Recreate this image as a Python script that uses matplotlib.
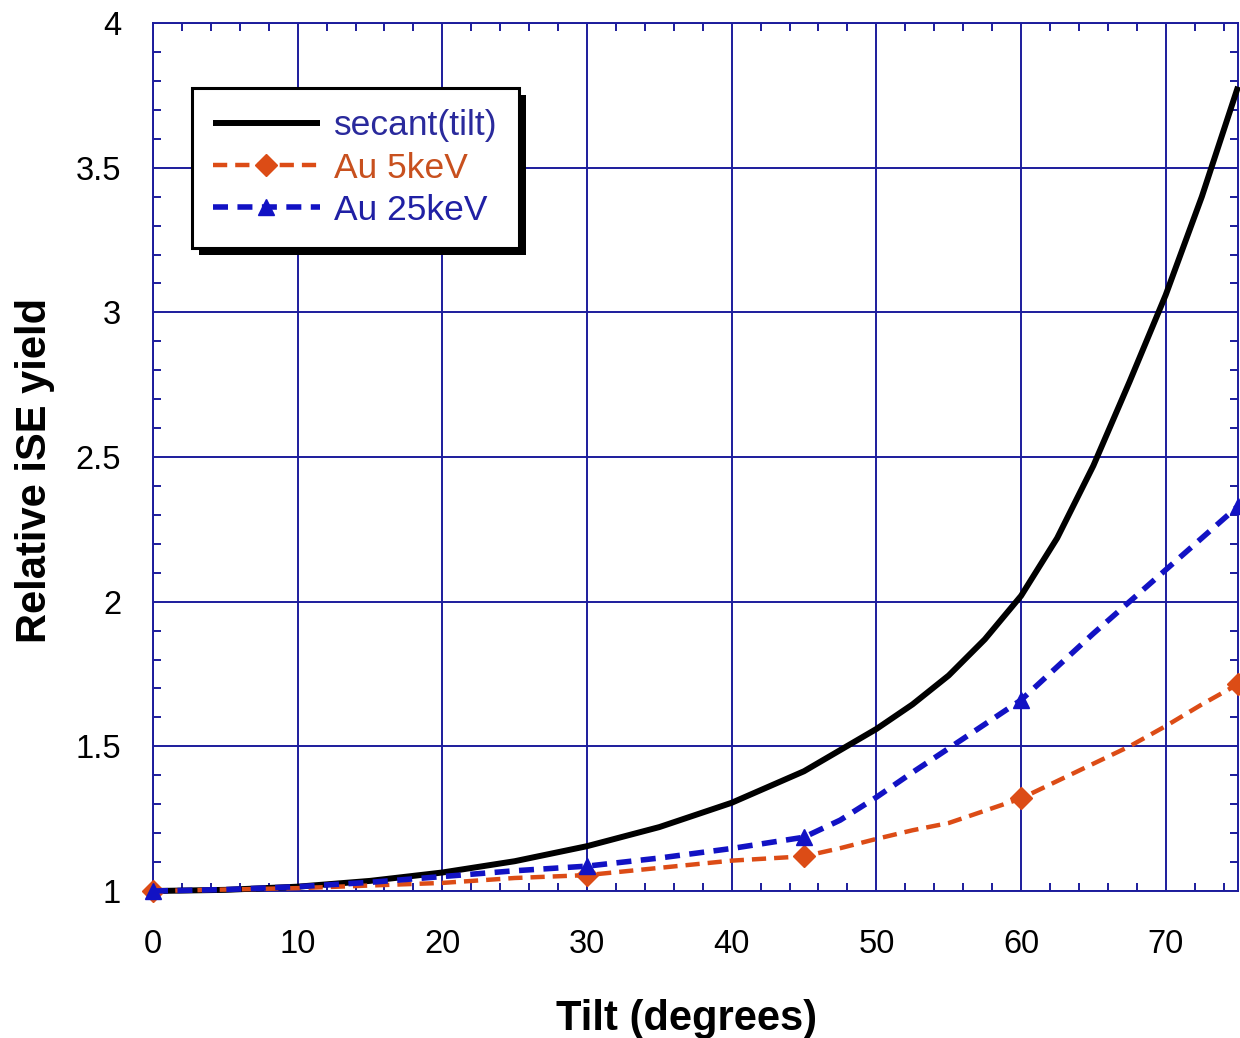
import numpy as np
import matplotlib.pyplot as plt
from matplotlib import patheffects
from matplotlib.ticker import MultipleLocator

plt.rcParams['font.family'] = ['Liberation Sans', 'DejaVu Sans']

# secant(tilt) curve
tilt_sec = [0, 5, 10, 15, 20, 25, 30, 35, 40, 45, 50, 52.5, 55, 57.5, 60,
            62.5, 65, 67.5, 70, 72.5, 75]
sec_vals = [1.0, 1.004, 1.015, 1.035, 1.064, 1.103, 1.155, 1.221, 1.305, 1.414,
            1.56, 1.645, 1.745, 1.87, 2.02, 2.22, 2.47, 2.76, 3.06, 3.40, 3.78]

# Au 5keV trace, measured at 0, 30, 45, 60, 75 deg
tilt_au5 = [0, 10, 20, 25, 30, 35, 40, 45, 47.5, 50, 52.5, 55, 60,
            65, 67.5, 70, 72.5, 75]
au5_vals = [1.0, 1.01, 1.028, 1.045, 1.055, 1.08, 1.105, 1.12, 1.148, 1.18,
            1.21, 1.235, 1.32, 1.44, 1.50, 1.57, 1.645, 1.715]
au5_marks = [0, 4, 7, 12, 17]

# Au 25keV trace
tilt_au25 = [0, 5, 10, 15, 20, 25, 30, 35, 40, 45, 47.5, 50, 52.5, 55, 60,
             65, 70, 72.5, 75]
au25_vals = [1.0, 1.005, 1.015, 1.03, 1.05, 1.07, 1.086, 1.114, 1.147, 1.186,
             1.245, 1.324, 1.41, 1.493, 1.66, 1.89, 2.11, 2.22, 2.33]
au25_marks = [0, 6, 9, 14, 18]

navy = '#1c1c9c'
orange = '#dc4c16'
blue = '#1212c4'

fig = plt.figure(figsize=(12.4, 10.38), dpi=100)
ax = fig.add_axes([0.1234, 0.1416, 0.875, 0.8362])

ax.plot(tilt_sec, sec_vals, color='black', lw=4.3, label='secant(tilt)',
        solid_capstyle='butt', solid_joinstyle='round', clip_on=False, zorder=3)
ax.plot(tilt_au5, au5_vals, color=orange, lw=3.2, dashes=(3.2, 1.8),
        marker='D', ms=11, markevery=au5_marks, label='Au 5keV',
        clip_on=False, zorder=4)
ax.plot(tilt_au25, au25_vals, color=blue, lw=4.0, dashes=(2.7, 1.7),
        marker='^', ms=12, markevery=au25_marks, label='Au 25keV',
        clip_on=False, zorder=5)

ax.set_xlim(0, 75)
ax.set_ylim(1, 4)
ax.set_xticks(np.arange(0, 71, 10))
ax.set_yticks([1, 1.5, 2, 2.5, 3, 3.5, 4])
ax.set_yticklabels(['1', '1.5', '2', '2.5', '3', '3.5', '4'])
ax.xaxis.set_minor_locator(MultipleLocator(2))
ax.yaxis.set_minor_locator(MultipleLocator(0.1))

ax.grid(True, which='major', color=navy, lw=1.4)
ax.set_axisbelow(True)
for s in ax.spines.values():
    s.set_color(navy)
    s.set_linewidth(1.4)

ax.tick_params(which='both', direction='in', top=True, right=True,
               color=navy, width=1.4)
ax.tick_params(which='major', length=0)
ax.tick_params(which='minor', length=6)
ax.tick_params(axis='x', which='major', labelsize=23.5, pad=27)
ax.tick_params(axis='y', which='major', labelsize=23.5, pad=23)

ax.set_xlabel('Tilt (degrees)', fontsize=30, fontweight='bold')
ax.set_ylabel('Relative iSE yield', fontsize=30, fontweight='bold')
ax.xaxis.set_label_coords(0.492, -0.124)
ax.yaxis.set_label_coords(-0.090, 0.484)

leg = ax.legend(loc='upper left', bbox_to_anchor=(0.036, 0.925),
                borderaxespad=0, fontsize=25.5, fancybox=False,
                framealpha=1, edgecolor='black', handlelength=3.0,
                handletextpad=0.4, borderpad=0.6, labelspacing=0.26)
leg.get_frame().set_linewidth(2.2)
leg.get_frame().set_path_effects([
    patheffects.SimplePatchShadow(offset=(5, -5), shadow_rgbFace='black',
                                  alpha=1.0),
    patheffects.Normal()])
for txt, c in zip(leg.get_texts(), ['#2a2a9c', '#c8501e', '#2020a4']):
    txt.set_color(c)

fig.savefig('out.png', dpi=100)
